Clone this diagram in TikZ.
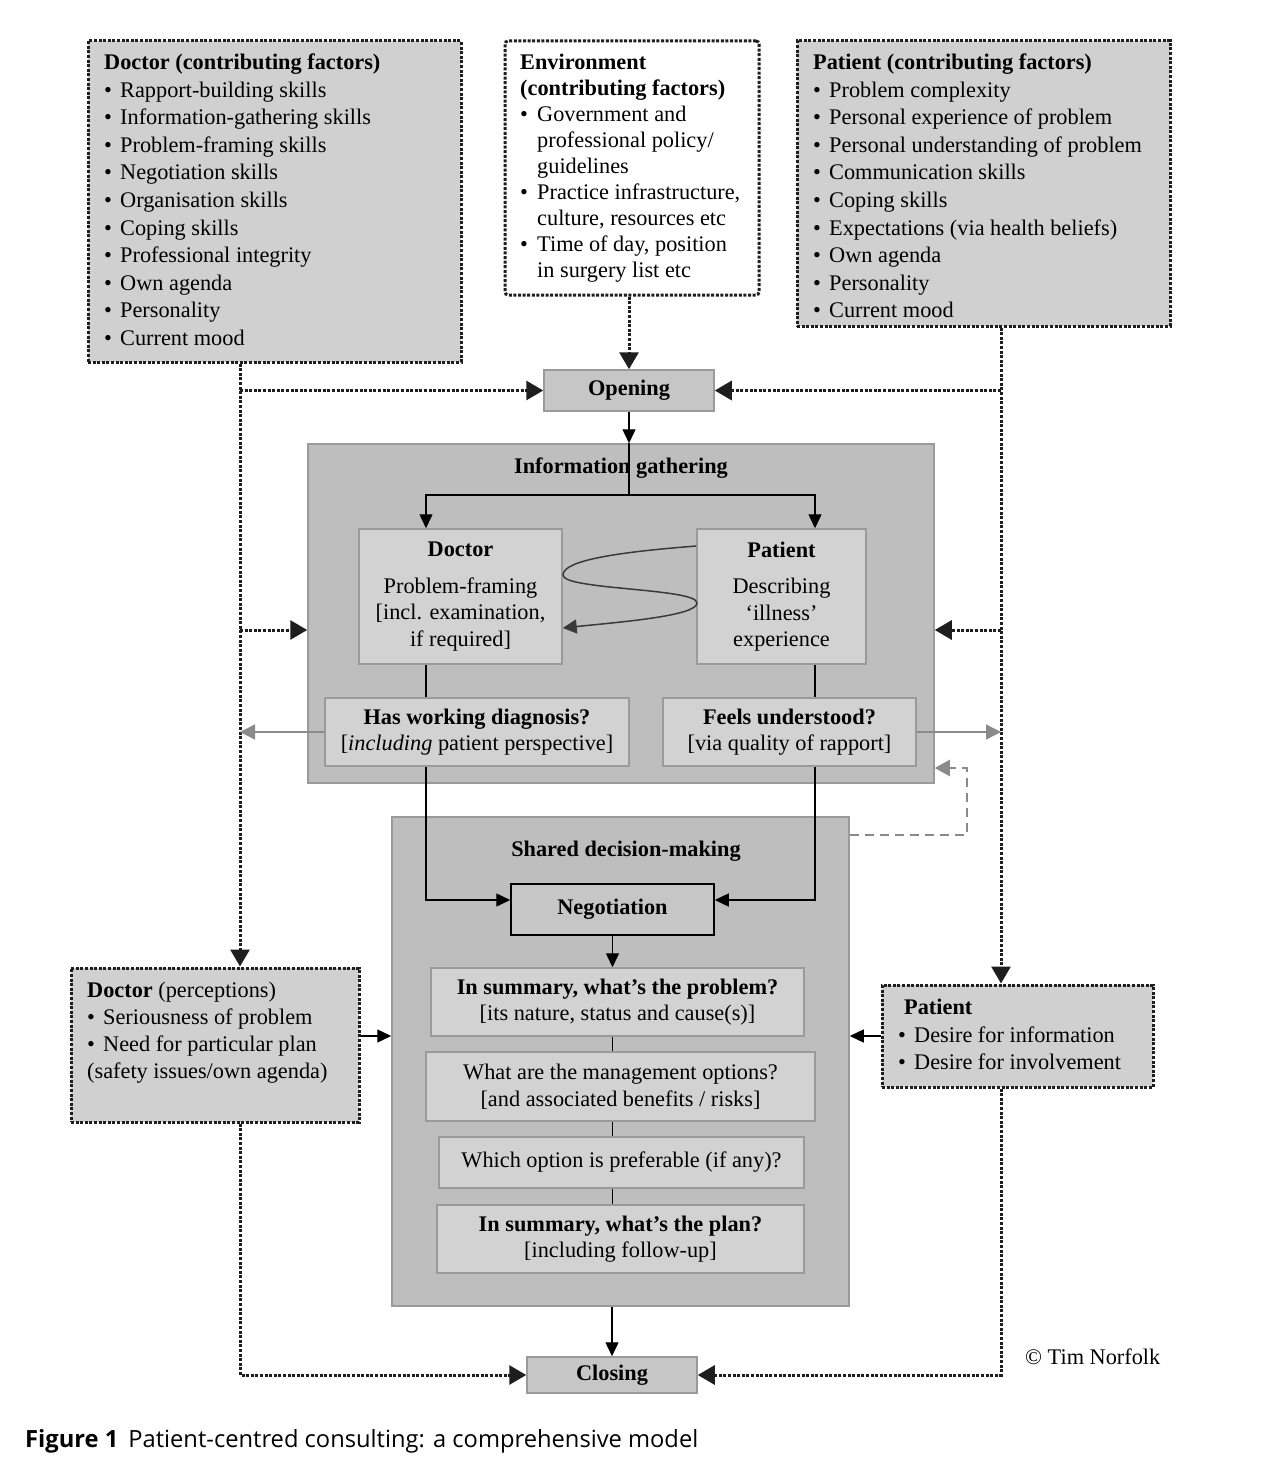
\documentclass[tikz,border=0pt]{standalone}
\usepackage{fontspec}
\setmainfont{Liberation Serif}
\newfontfamily\capfont{Open Sans}
\usetikzlibrary{arrows.meta,calc}
\definecolor{boxgray}{HTML}{D0D0D0}
\definecolor{outergray}{HTML}{BEBEBE}
\definecolor{innergray}{HTML}{D2D2D2}
\definecolor{stagegray}{HTML}{C6C6C6}
\definecolor{edgegray}{HTML}{9A9A9A}
\definecolor{dotcol}{HTML}{1E1E1E}
\definecolor{arrgray}{HTML}{8A8A8A}
\definecolor{curvecol}{HTML}{3A3A3A}
\newcommand\bul{\makebox[16pt][l]{•}}
\newcommand\ind{\hspace*{17pt}}
\newcommand\fsz{\fontsize{22.3}{27.5}\selectfont}
\newcommand\fsm{\fontsize{22.3}{26.5}\selectfont}
\begin{document}
\begin{tikzpicture}[x=1pt,y=-1pt,
  txt/.style={anchor=base west, inner sep=0pt, font=\fsz},
  ttl/.style={anchor=base, inner sep=0pt, font=\fsz\bfseries},
  dotbox/.style={draw=dotcol, line width=3pt, dash pattern=on 3pt off 1.6pt, fill=boxgray, inner sep=0pt},
  outerbox/.style={draw=edgegray, line width=1.5pt, fill=outergray, inner sep=0pt},
  innerbox/.style={draw=edgegray, line width=1.5pt, fill=innergray, inner sep=0pt, align=center, font=\fsm},
  stagebox/.style={draw=edgegray, line width=1.5pt, fill=stagegray, inner sep=0pt, font=\fsz},
  arr/.style={draw=black, line width=1.4pt, -{Triangle[length=14pt,width=13pt]}},
  ln/.style={draw=black, line width=1.4pt},
  dotln/.style={draw=dotcol, line width=3pt, dash pattern=on 3pt off 1.6pt},
  dotarr/.style={dotln, -{Triangle[length=17pt,width=19pt]}},
  grayarr/.style={draw=arrgray, line width=1.3pt, -{Triangle[length=15pt,width=15pt]}},
  dasharr/.style={draw=arrgray, line width=2.2pt, dash pattern=on 9pt off 6pt, -{Triangle[length=15pt,width=16pt]}},
  curvarr/.style={draw=curvecol, line width=1.5pt, -{Triangle[length=14pt,width=14pt]}}
]
\useasboundingbox (0,0) rectangle (1272,1466);

% ---------- top boxes ----------
\node[dotbox, minimum width=373pt, minimum height=321pt] (docCF) at (274.5,201.5) {};
\node[dotbox, fill=white, rounded corners=3pt, minimum width=254pt, minimum height=254pt] (env) at (632,168) {};
\node[dotbox, minimum width=373pt, minimum height=285pt] (patCF) at (983.5,183.5) {};

\foreach \t [count=\i from 0] in {
  {\textbf{Doctor (contributing factors)}},
  {\bul Rapport-building skills},
  {\bul Information-gathering skills},
  {\bul Problem-framing skills},
  {\bul Negotiation skills},
  {\bul Organisation skills},
  {\bul Coping skills},
  {\bul Professional integrity},
  {\bul Own agenda},
  {\bul Personality},
  {\bul Current mood}}
  \node[txt] (dcf\i) at (104,{70+27.5*\i}) {\t};

\foreach \t [count=\i from 0] in {
  {\textbf{Environment}},
  {\textbf{(contributing factors)}},
  {\makebox[17pt][l]{•}Government and},
  {\ind professional policy/},
  {\ind guidelines},
  {\makebox[17pt][l]{•}Practice infrastructure,},
  {\ind culture, resources etc},
  {\makebox[17pt][l]{•}Time of day, position},
  {\ind in surgery list etc}}
  \node[txt] (ecf\i) at (520,{70+25.9*\i}) {\t};

\foreach \t [count=\i from 0] in {
  {\textbf{Patient (contributing factors)}},
  {\bul Problem complexity},
  {\bul Personal experience of problem},
  {\bul Personal understanding of problem},
  {\bul Communication skills},
  {\bul Coping skills},
  {\bul Expectations (via health beliefs)},
  {\bul Own agenda},
  {\bul Personality},
  {\bul Current mood}}
  \node[txt] (pcf\i) at (813,{70+27.5*\i}) {\t};

% ---------- opening ----------
\node[stagebox, minimum width=170pt, minimum height=41pt] (opening) at (629,390.5) {\textbf{Opening}};

% ---------- information gathering ----------
\node[outerbox, minimum width=626pt, minimum height=339pt] (info) at (621,613.5) {};
\node[ttl] (infottl) at (621,473) {Information gathering};
\node[innerbox, minimum width=203pt, minimum height=135pt] (idoc) at (460.5,596.5)
  {\textbf{Doctor}\\[10pt]Problem-framing\\{[}incl. examination,\\if required{]}};
\node[innerbox, minimum width=169pt, minimum height=135pt] (ipat) at (781.5,596.5)
  {\textbf{Patient}\\[10pt]Describing\\‘illness’\\experience};
\node[innerbox, minimum width=304pt, minimum height=68pt] (hwd) at (477,732)
  {\textbf{Has working diagnosis?}\\{[}\textit{including} patient perspective{]}};
\node[innerbox, minimum width=253pt, minimum height=68pt] (fu) at (789.5,732)
  {\textbf{Feels understood?}\\{[}via quality of rapport{]}};

% ---------- shared decision making ----------
\node[outerbox, minimum width=457pt, minimum height=489pt] (sdm) at (620.5,1061.5) {};
\node[ttl] (sdmttl) at (626,856) {Shared decision-making};
\node[stagebox, draw=black, minimum width=203pt, minimum height=51pt] (neg) at (612.5,909.5) {\textbf{Negotiation}};
\node[innerbox, minimum width=373pt, minimum height=68pt] (s1) at (617.5,1002)
  {\textbf{In summary, what’s the problem?}\\{[}its nature, status and cause(s){]}};
\node[innerbox, minimum width=389pt, minimum height=69pt] (mg) at (620.5,1086.5)
  {What are the management options?\\{[}and associated benefits / risks{]}};
\node[innerbox, minimum width=365pt, minimum height=51pt] (wh) at (621.5,1162.5)
  {Which option is preferable (if any)?};
\node[innerbox, minimum width=367pt, minimum height=68pt] (pl) at (620.5,1239)
  {\textbf{In summary, what’s the plan?}\\{[}including follow-up{]}};

% ---------- closing ----------
\node[stagebox, minimum width=170pt, minimum height=36pt] (closing) at (612,1375) {\textbf{Closing}};

% ---------- perception boxes ----------
\node[dotbox, minimum width=288pt, minimum height=154pt] (dperc) at (215,1045) {};
\foreach \t [count=\i from 0] in {
  {\textbf{Doctor} (perceptions)},
  {\bul Seriousness of problem},
  {\bul Need for particular plan},
  {(safety issues/own agenda)}}
  \node[txt] (dp\i) at (87,{997+27*\i}) {\t};

\node[dotbox, minimum width=271pt, minimum height=102pt] (pright) at (1017.5,1036) {};
\node[txt] (pr0) at (904,1014) {\textbf{Patient}};
\node[txt] (pr1) at (898,1042) {\bul Desire for information};
\node[txt] (pr2) at (898,1069) {\bul Desire for involvement};

% ---------- credits / caption ----------
\node[txt] (copy) at (1025,1364) {© Tim Norfolk};
\node[anchor=base west, inner sep=0pt, font=\capfont\fontsize{23.7}{28}\selectfont] (cap) at (25,1447)
  {\textbf{Figure 1}\hspace{10pt}Patient-centred consulting: a comprehensive model};

% ---------- helper coordinates ----------
\coordinate (xL) at (240,0);
\coordinate (xR) at (1001,0);
\coordinate (xl) at (426,0);
\coordinate (xr) at (815,0);
\coordinate (yM) at (0,630);
\coordinate (yN) at (0,900);
\coordinate (yP) at (0,1036);
\coordinate (yD) at (0,835);
\coordinate (split) at (629,495);
\coordinate (dk) at (967,768);

% ---------- dotted influences ----------
\draw[dotarr] (env.south -| opening.north) -- (opening.north);
\draw[dotarr] (docCF.south -| xL) -- (dperc.north -| xL);
\draw[dotarr] (xL |- opening.west) -- (opening.west);
\draw[dotarr] (xL |- yM) -- (info.west |- yM);
\draw[dotarr] (patCF.south -| xR) -- (pright.north -| xR);
\draw[dotarr] (xR |- opening.east) -- (opening.east);
\draw[dotarr] (xR |- yM) -- (info.east |- yM);
\draw[dotarr] (dperc.south -| xL) |- (closing.west);
\draw[dotarr] (pright.south -| xR) |- (closing.east);

% ---------- main flow ----------
\draw[arr] (opening.south) -- (info.north -| opening.south);
\draw[ln] (info.north -| opening.south) -- (split);
\draw[arr] (split) -| (idoc.north -| xl);
\draw[arr] (split) -| (ipat.north -| xr);
\draw[ln] (idoc.south -| xl) -- (hwd.north -| xl);
\draw[ln] (ipat.south -| xr) -- (fu.north -| xr);
\draw[curvarr] (ipat.west |- 0,546) .. controls (620,552) and (563,560) .. (563,575)
  .. controls (563,590) and (697,588) .. (697,603)
  .. controls (697,616) and (620,622) .. (idoc.east |- 0,628);
\draw[grayarr] (hwd.west) -- (xL |- hwd.west);
\draw[grayarr] (fu.east) -- (xR |- fu.east);
\draw[dasharr] (sdm.east |- yD) -| (dk) -- (info.east |- dk);
\draw[arr] (hwd.south -| xl) |- (neg.west |- yN);
\draw[arr] (fu.south -| xr) |- (neg.east |- yN);
\draw[arr] (neg.south) -- (s1.north -| neg.south);
\draw[ln] (s1.south -| neg.south) -- (mg.north -| neg.south);
\draw[ln] (mg.south -| neg.south) -- (wh.north -| neg.south);
\draw[ln] (wh.south -| neg.south) -- (pl.north -| neg.south);
\draw[arr] (sdm.south -| closing.north) -- (closing.north);
\draw[arr] (dperc.east |- yP) -- (sdm.west |- yP);
\draw[arr] (pright.west) -- (sdm.east |- pright.west);
\end{tikzpicture}
\end{document}
